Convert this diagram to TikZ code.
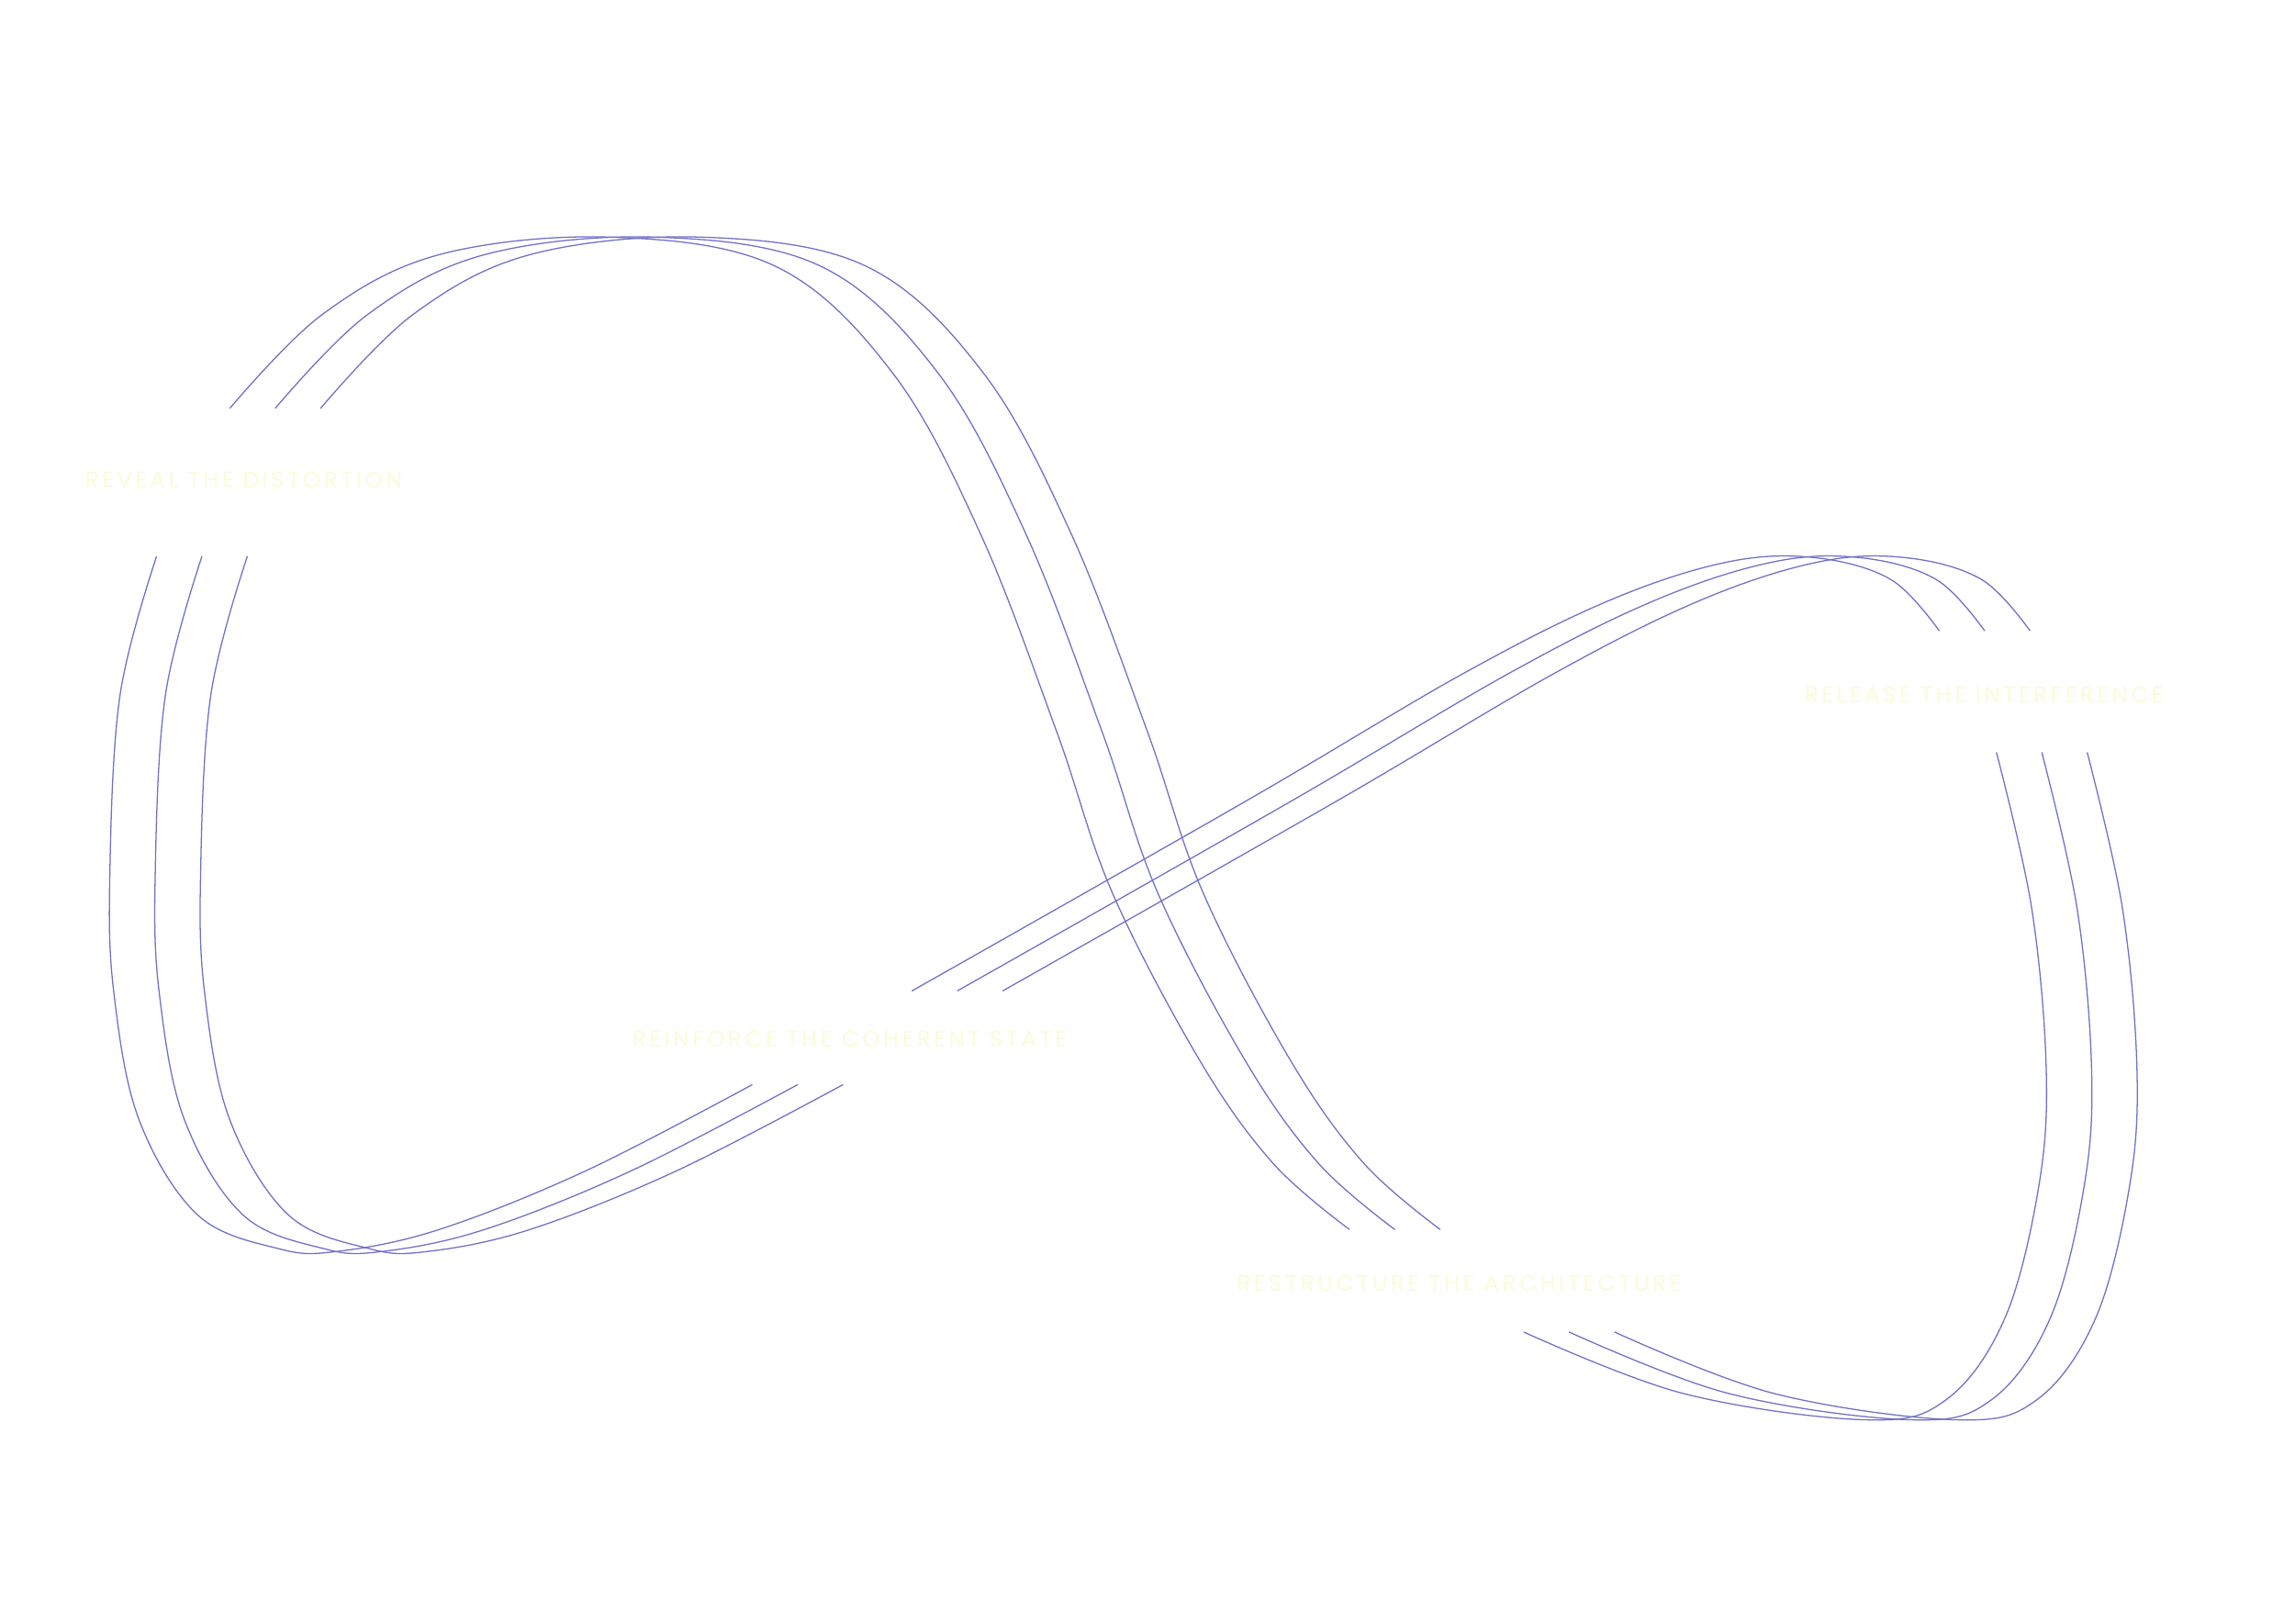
\documentclass[tikz,border=0pt]{standalone}
\usepackage{fontspec}
\setmainfont{Poppins}
\newfontfamily\lblfont[LetterSpace=14]{Poppins}
\definecolor{ln}{RGB}{112,112,200}
\definecolor{lb}{RGB}{252,251,218}
\begin{document}
\begin{tikzpicture}[x=1pt,y=-1pt,
  strand/.style={draw=ln,line width=0.8pt},
  lbl/.style={text=lb,font=\lblfont\fontsize{15.5}{18}\selectfont,inner sep=0pt}]
\useasboundingbox (0,0) rectangle (1568,1109);
\fill[white] (0,0) rectangle (1568,1109);
\foreach \s in {0,31,62}{
\begin{scope}[xshift=\s]
\draw[strand] plot[smooth,tension=0.6] coordinates {(157,279) (220,215) (300,174) (417,162) (530,182) (610,255) (670,365) (722,500) (760,610) (820,725) (870,795) (922,840)};
\draw[strand] plot[smooth,tension=0.6] coordinates {(1041,910) (1150,952) (1275,970) (1330,956) (1370,900) (1393,810) (1398,730) (1388,620) (1364,514)};
\draw[strand] plot[smooth,tension=0.6] coordinates {(1325,431) (1292,396) (1240,381) (1180,384) (1100,410) (1000,460) (850,548) (623,677)};
\draw[strand] plot[smooth,tension=0.6] coordinates {(514,741) (400,800) (300,840) (230,855) (190,853) (135,830) (95,765) (78,680) (75,600) (82,475) (107,380)};
\end{scope}}
\node[lbl,anchor=west] (t1) at (58,328) {REVEAL THE DISTORTION};
\node[lbl,anchor=west] (t2) at (1233,475) {RELEASE THE INTERFERENCE};
\node[lbl,anchor=west] (t3) at (432,710) {REINFORCE THE COHERENT STATE};
\node[lbl,anchor=west] (t4) at (845,877) {RESTRUCTURE THE ARCHITECTURE};
\end{tikzpicture}
\end{document}
